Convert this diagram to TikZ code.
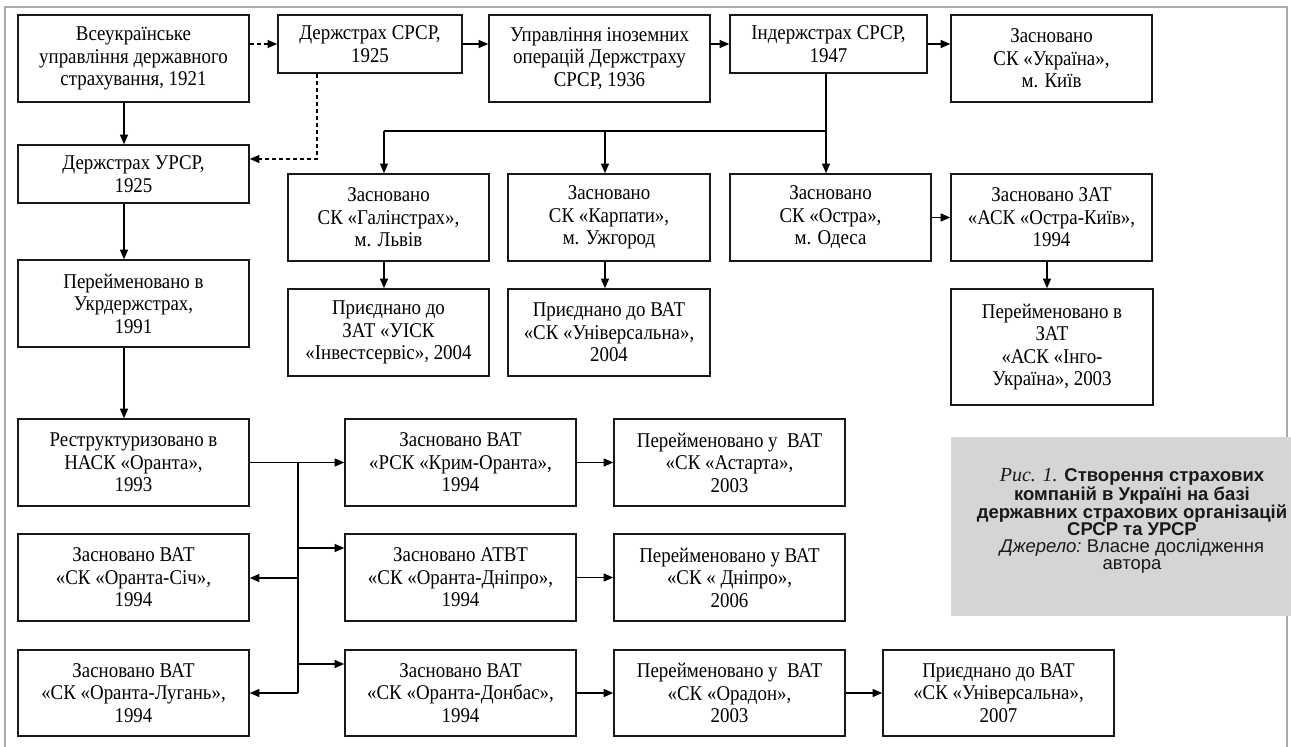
\documentclass[tikz,border=0pt]{standalone}
\usepackage{fontspec}
\setmainfont{Liberation Serif}
\newfontfamily\boxfont{Liberation Serif}[FakeStretch=0.9]
\newfontfamily\capsans{Liberation Sans}
\usetikzlibrary{arrows.meta}
\definecolor{framegray}{HTML}{ABABAB}
\definecolor{capgray}{HTML}{D4D5D7}
\tikzset{
  box/.style={draw=black!90, line width=1.6pt, fill=white, align=center, inner sep=0pt,
    text=black, font=\boxfont\fontsize{21}{22.5}\selectfont},
  arr/.style={-{Triangle[length=9.5pt,width=8pt]}, line width=1.2pt, draw=black},
  plain/.style={line width=1.2pt, draw=black},
  dsh/.style={arr, dash pattern=on 4pt off 3pt},
  captext/.style={align=center, inner sep=0pt, text=black!90,
    font=\capsans\bfseries\fontsize{18.5}{17}\selectfont}
}
\newcommand\mkbox[6]{\node[box, minimum width={(#4-#2)*1pt}, minimum height={(#5-#3)*1pt}] (#1) at ({(#2+#4)/2},{(#3+#5)/2}) {#6};}
\begin{document}
\begin{tikzpicture}[x=1pt,y=-1pt]
\useasboundingbox (0,0) rectangle (1291,747);
% outer frame
\draw[framegray, line width=2.6pt] (5,760) -- (5,7) -- (1287,7) -- (1287,760);
% caption panel
\fill[capgray] (951,437) rectangle (1300,616);
\node[captext] (cap) at (1132,521) {{\mdseries\rmfamily\itshape\fontsize{20}{17}\selectfont Рис. 1.} Створення страхових\\компаній в Україні на базі\\державних страхових організацій\\СРСР та УРСР\\{\mdseries\itshape Джерело:}{\mdseries\ Власне дослідження}\\{\mdseries автора}};

% row 1
\mkbox{A}{18}{15}{249}{102}{Всеукраїнське\\управління державного\\страхування, 1921}
\mkbox{B}{278}{15}{462}{73}{Держстрах СРСР,\\1925}
\mkbox{D}{489}{15}{710}{102}{Управління іноземних\\операцій Держстраху\\СРСР, 1936}
\mkbox{E}{730}{15}{927}{73}{Індержстрах СРСР,\\1947}
\mkbox{F}{951}{15}{1152}{102}{Засновано\\СК «Україна»,\\м. Київ}
% left column
\mkbox{C}{18}{145}{249}{203}{Держстрах УРСР,\\1925}
\mkbox{W}{18}{260}{249}{347}{Перейменовано в\\Укрдержстрах,\\1991}
\mkbox{M}{18}{419}{249}{506}{Реструктуризовано в\\НАСК «Оранта»,\\1993}
\mkbox{O}{18}{534}{249}{621}{Засновано ВАТ\\«СК «Оранта-Січ»,\\1994}
\mkbox{Q}{18}{650}{249}{736}{Засновано ВАТ\\«СК «Оранта-Лугань»,\\1994}
% row 2/3
\mkbox{G}{288}{174}{489}{261}{Засновано\\СК «Галінстрах»,\\м. Львів}
\mkbox{H}{508}{174}{710}{261}{Засновано\\СК «Карпати»,\\м. Ужгород}
\mkbox{I}{730}{174}{931}{261}{Засновано\\СК «Остра»,\\м. Одеса}
\mkbox{J}{951}{174}{1152}{261}{Засновано ЗАТ\\«АСК «Остра-Київ»,\\1994}
\mkbox{K}{288}{289}{489}{376}{Приєднано до\\ЗАТ «УІСК\\«Інвестсервіс», 2004}
\mkbox{L}{508}{289}{710}{376}{Приєднано до ВАТ\\«СК «Універсальна»,\\2004}
\mkbox{JJ}{951}{289}{1153}{405}{Перейменовано в\\ЗАТ\\«АСК «Інго-\\Україна», 2003}
% lower block
\mkbox{N}{345}{419}{576}{506}{Засновано ВАТ\\«РСК «Крим-Оранта»,\\1994}
\mkbox{S}{614}{419}{845}{506}{Перейменовано у\ \ ВАТ\\«СК «Астарта»,\\2003}
\mkbox{P}{345}{534}{576}{621}{Засновано АТВТ\\«СК «Оранта-Дніпро»,\\1994}
\mkbox{T}{614}{534}{845}{621}{Перейменовано у ВАТ\\«СК « Дніпро»,\\2006}
\mkbox{R}{345}{650}{576}{736}{Засновано ВАТ\\«СК «Оранта-Донбас»,\\1994}
\mkbox{U}{614}{650}{845}{736}{Перейменовано у\ \ ВАТ\\«СК «Орадон»,\\2003}
\mkbox{V}{883}{650}{1114}{736}{Приєднано до ВАТ\\«СК «Універсальна»,\\2007}

% connector coordinates
\coordinate (lx) at (124,0);
\coordinate (bd) at (317,159);
\coordinate (j1) at (384,131);
\coordinate (j2) at (605,131);
\coordinate (j3) at (826,131);
\coordinate (jx) at (1047,0);
\coordinate (tA) at (298,462);
\coordinate (tB) at (298,548);
\coordinate (tC) at (298,578);
\coordinate (tD) at (298,664);
\coordinate (tE) at (298,693);

% row 1 connectors
\draw[dsh] (B.west -| A.east) -- (B.west);
\draw[dsh] (B.south -| bd) -- (bd) -- (bd -| C.east);
\draw[arr] (B.east) -- (B.east -| D.west);
\draw[arr] (E.west -| D.east) -- (E.west);
\draw[arr] (E.east) -- (E.east -| F.west);
% left column
\draw[arr] (A.south -| lx) -- (C.north -| lx);
\draw[arr] (C.south -| lx) -- (W.north -| lx);
\draw[arr] (W.south -| lx) -- (M.north -| lx);
% Indergosstrakh branches
\draw[plain] (E.south -| j3) -- (j3) -- (j1);
\draw[arr] (j1) -- (j1 |- G.north);
\draw[arr] (j2) -- (j2 |- H.north);
\draw[arr] (j3) -- (j3 |- I.north);
\draw[arr] (G.south -| j1) -- (K.north -| j1);
\draw[arr] (H.south -| j2) -- (L.north -| j2);
\draw[arr] (I.east) -- (J.west);
\draw[arr] (J.south -| jx) -- (JJ.north -| jx);
% Oranta tree
\draw[arr] (M.east) -- (N.west);
\draw[plain] (tA) -- (tE);
\draw[arr] (tB) -- (tB -| P.west);
\draw[arr] (tC) -- (tC -| O.east);
\draw[arr] (tD) -- (tD -| R.west);
\draw[arr] (tE) -- (tE -| Q.east);
\draw[arr] (N.east) -- (S.west);
\draw[arr] (P.east) -- (T.west);
\draw[arr] (R.east |- tE) -- (U.west |- tE);
\draw[arr] (U.east |- tE) -- (V.west |- tE);
\end{tikzpicture}
\end{document}
